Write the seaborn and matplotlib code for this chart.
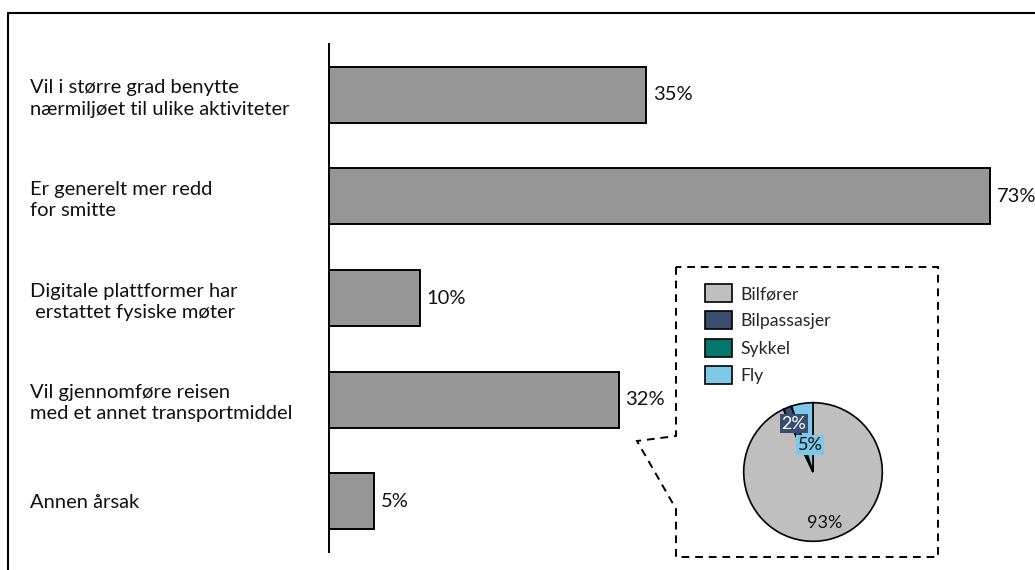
import matplotlib
matplotlib.use("Agg")
import matplotlib.pyplot as plt
from matplotlib.lines import Line2D
from matplotlib.patches import Polygon
import seaborn as sns
import pandas as pd

# Reasons for changed travel behaviour (share of respondents, %)
reasons = [
    "Vil i større grad benytte\nnærmiljøet til ulike aktiviteter",
    "Er generelt mer redd\nfor smitte",
    "Digitale plattformer har\n erstattet fysiske møter",
    "Vil gjennomføre reisen\nmed et annet transportmiddel",
    "Annen årsak",
]
shares = [35, 73, 10, 32, 5]

# Alternative transport mode breakdown (%)
modes = ["Bilfører", "Bilpassasjer", "Sykkel", "Fly"]
mode_shares = [93, 2, 0, 5]
mode_colors = ["#BFBFBF", "#3B4D6E", "#00786C", "#7CC8E6"]

sns.set_theme(style="white")
plt.rcParams["font.family"] = ["Lato", "DejaVu Sans"]

W, H = 1035, 570
fig = plt.figure(figsize=(W / 100, H / 100), dpi=100)

def fx(px):
    return px / W

def fy(py):
    return 1 - py / H

# main bar chart
ax = fig.add_axes([fx(329), fy(552), fx(1035 - 329), (552 - 44) / H])
df = pd.DataFrame({"reason": reasons, "share": shares})
sns.barplot(data=df, x="share", y="reason", orient="h", color="#969696",
            saturation=1, edgecolor="black", linewidth=1.4, width=0.55, ax=ax)
ax.set_xlim(0, 706 / 9.05)
ax.set_ylim(4.5, -0.5)
ax.set_xlabel("")
ax.set_ylabel("")
ax.set_xticks([])
for s in ["top", "right", "bottom"]:
    ax.spines[s].set_visible(False)
ax.spines["left"].set_color("black")
ax.spines["left"].set_linewidth(1.4)
ax.tick_params(axis="y", length=0, pad=299 * 0.72, labelsize=14.5, labelcolor="#111111")
for lbl in ax.get_yticklabels():
    lbl.set_horizontalalignment("left")
    lbl.set_linespacing(1.3)
ax.bar_label(ax.containers[0], labels=[f"{v}%" for v in shares],
             padding=5, fontsize=14.5, color="#111111")

# outer frame (top and left edges)
fig.add_artist(Line2D([fx(8), 1], [fy(12.5), fy(12.5)], color="black", lw=1.5))
fig.add_artist(Line2D([fx(8), fx(8)], [fy(12.5), 0], color="black", lw=1.5))

# dashed callout box
callout = [(676, 267), (676, 436), (637, 441), (676, 509), (676, 557),
           (938, 557), (938, 267)]
fig.add_artist(Polygon([(fx(x), fy(y)) for x, y in callout], closed=True,
                       fill=False, edgecolor="black", lw=1.4,
                       linestyle=(0, (4, 3))))

# pie chart of transport modes
pax = fig.add_axes([fx(743), fy(542), 140 / W, 140 / H])
wedges, _, autotexts = pax.pie(
    mode_shares, colors=mode_colors, startangle=90, counterclock=False,
    autopct=lambda p: f"{p:.0f}%" if p >= 1 else "", pctdistance=0.75,
    wedgeprops=dict(edgecolor="black", linewidth=1.2),
    textprops=dict(fontsize=13, color="#111111"))
pax.set_xlim(-1.01, 1.01)
pax.set_ylim(-1.01, 1.01)
pax.set_aspect("equal")
for i, t in enumerate(autotexts):
    if mode_shares[i] < 10 and t.get_text():
        t.set_bbox(dict(facecolor=mode_colors[i], edgecolor="none", pad=1.2))
        if modes[i] == "Bilpassasjer":
            t.set_color("white")
        if modes[i] == "Fly":
            x, y = t.get_position()
            t.set_position((x + 0.08, y - 0.35))

fig.legend(wedges, modes, loc="upper left",
           bbox_to_anchor=(fx(698), fy(277)), frameon=False,
           fontsize=12.7, handlelength=1.55, handleheight=1.2,
           labelspacing=0.52, handletextpad=0.45, borderaxespad=0)

fig.savefig("out.png", dpi=100)
